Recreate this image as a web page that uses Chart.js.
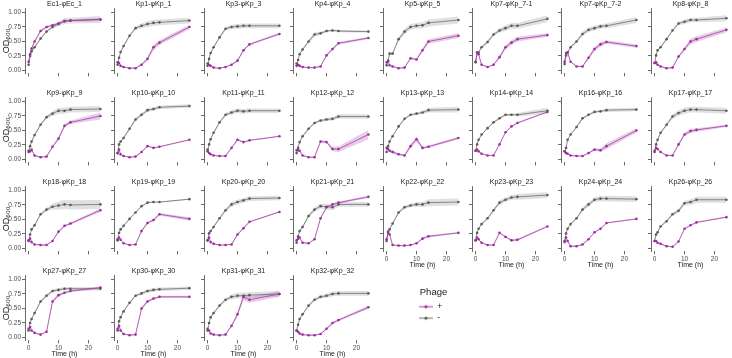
<!DOCTYPE html>
<html><head><meta charset="utf-8">
<script src="https://cdn.jsdelivr.net/npm/chart.js@4/dist/chart.umd.min.js"></script>
<style>
html,body{margin:0;padding:0;background:#fff;width:732px;height:358px;overflow:hidden;position:relative}
canvas{position:absolute;display:block}
</style></head><body>
<script>
const times = [0,0.5,1,2,4,6,8,10,12,14,24];
const panelNames = ['Ec1-φEc_1','Kp1-φKp_1','Kp3-φKp_3','Kp4-φKp_4','Kp5-φKp_5','Kp7-φKp_7-1','Kp7-φKp_7-2','Kp8-φKp_8',
'Kp9-φKp_9','Kp10-φKp_10','Kp11-φKp_11','Kp12-φKp_12','Kp13-φKp_13','Kp14-φKp_14','Kp16-φKp_16','Kp17-φKp_17',
'Kp18-φKp_18','Kp19-φKp_19','Kp20-φKp_20','Kp21-φKp_21','Kp22-φKp_22','Kp23-φKp_23','Kp24-φKp_24','Kp26-φKp_26',
'Kp27-φKp_27','Kp30-φKp_30','Kp31-φKp_31','Kp32-φKp_32'];
const legendLabels = ['+','-'];
const yTicks = [0,0.25,0.5,0.75,1];
const xTicks = [0,10,20];

// OD600 without phage ("-")
const minusOD = [
[0.10,0.25,0.33,0.40,0.55,0.67,0.75,0.80,0.85,0.86,0.88],
[0.10,0.22,0.32,0.42,0.60,0.73,0.77,0.80,0.82,0.83,0.86],
[0.08,0.20,0.30,0.40,0.57,0.72,0.75,0.76,0.77,0.77,0.77],
[0.08,0.18,0.28,0.36,0.50,0.62,0.64,0.68,0.69,0.68,0.67],
[0.09,0.17,0.29,0.29,0.54,0.67,0.75,0.77,0.78,0.82,0.87],
[0.14,0.31,0.31,0.40,0.49,0.62,0.69,0.73,0.77,0.77,0.89],
[0.11,0.26,0.31,0.40,0.50,0.63,0.70,0.73,0.76,0.77,0.87],
[0.13,0.26,0.35,0.40,0.54,0.69,0.81,0.84,0.87,0.87,0.90],
[0.13,0.23,0.31,0.42,0.60,0.73,0.79,0.84,0.84,0.86,0.87],
[0.11,0.26,0.31,0.37,0.53,0.69,0.77,0.85,0.87,0.90,0.92],
[0.14,0.26,0.35,0.46,0.64,0.77,0.81,0.84,0.83,0.84,0.84],
[0.11,0.20,0.30,0.40,0.53,0.63,0.67,0.69,0.70,0.74,0.74],
[0.13,0.23,0.31,0.40,0.57,0.70,0.77,0.79,0.81,0.85,0.86],
[0.15,0.26,0.34,0.43,0.54,0.64,0.71,0.77,0.77,0.77,0.84],
[0.14,0.20,0.34,0.43,0.56,0.71,0.77,0.82,0.83,0.85,0.86],
[0.13,0.26,0.34,0.46,0.60,0.74,0.80,0.84,0.86,0.86,0.84],
[0.13,0.24,0.33,0.40,0.59,0.67,0.72,0.74,0.76,0.75,0.76],
[0.14,0.27,0.33,0.39,0.51,0.62,0.73,0.79,0.80,0.80,0.85],
[0.14,0.26,0.30,0.37,0.52,0.66,0.76,0.80,0.83,0.86,0.87],
[0.10,0.21,0.30,0.37,0.56,0.67,0.73,0.72,0.71,0.76,0.76],
[0.13,0.27,0.33,0.43,0.62,0.71,0.74,0.76,0.76,0.79,0.80],
[0.14,0.27,0.34,0.42,0.52,0.66,0.79,0.84,0.88,0.89,0.92],
[0.13,0.26,0.34,0.42,0.52,0.67,0.76,0.84,0.86,0.86,0.85],
[0.13,0.24,0.28,0.38,0.47,0.59,0.65,0.78,0.80,0.84,0.84],
[0.12,0.25,0.32,0.42,0.62,0.72,0.80,0.82,0.84,0.84,0.84],
[0.12,0.28,0.35,0.45,0.60,0.72,0.76,0.80,0.82,0.83,0.85],
[0.12,0.25,0.35,0.42,0.55,0.65,0.70,0.72,0.72,0.73,0.75],
[0.12,0.22,0.32,0.40,0.55,0.65,0.70,0.72,0.75,0.76,0.76]];

// OD600 with phage ("+")
const plusOD = [
[0.15,0.28,0.38,0.50,0.68,0.75,0.78,0.81,0.85,0.86,0.88],
[0.14,0.13,0.08,0.06,0.04,0.04,0.10,0.20,0.40,0.48,0.75],
[0.12,0.10,0.08,0.05,0.04,0.06,0.10,0.17,0.35,0.45,0.63],
[0.12,0.10,0.08,0.06,0.05,0.05,0.07,0.26,0.37,0.47,0.56],
[0.14,0.16,0.09,0.07,0.04,0.05,0.21,0.19,0.35,0.50,0.60],
[0.15,0.31,0.28,0.10,0.06,0.10,0.23,0.40,0.48,0.54,0.61],
[0.15,0.30,0.31,0.15,0.07,0.07,0.22,0.37,0.45,0.49,0.42],
[0.13,0.14,0.10,0.07,0.04,0.05,0.24,0.37,0.50,0.54,0.70],
[0.15,0.14,0.17,0.07,0.04,0.05,0.22,0.36,0.58,0.64,0.75],
[0.11,0.17,0.09,0.06,0.04,0.05,0.13,0.23,0.20,0.22,0.34],
[0.17,0.11,0.09,0.07,0.06,0.06,0.20,0.34,0.30,0.33,0.40],
[0.16,0.16,0.15,0.07,0.04,0.04,0.31,0.30,0.18,0.18,0.43],
[0.20,0.18,0.15,0.13,0.09,0.07,0.23,0.35,0.20,0.22,0.37],
[0.15,0.17,0.14,0.10,0.07,0.07,0.26,0.47,0.57,0.63,0.82],
[0.14,0.11,0.10,0.07,0.06,0.06,0.11,0.17,0.16,0.23,0.50],
[0.15,0.20,0.18,0.13,0.07,0.07,0.26,0.43,0.49,0.51,0.58],
[0.14,0.17,0.11,0.07,0.06,0.06,0.13,0.29,0.39,0.43,0.66],
[0.16,0.19,0.15,0.09,0.06,0.07,0.30,0.44,0.49,0.59,0.51],
[0.14,0.19,0.11,0.08,0.06,0.06,0.07,0.24,0.35,0.46,0.63],
[0.14,0.17,0.19,0.10,0.09,0.16,0.52,0.71,0.76,0.79,0.89],
[0.16,0.29,0.24,0.06,0.05,0.05,0.06,0.09,0.17,0.21,0.27],
[0.14,0.19,0.16,0.10,0.06,0.06,0.27,0.20,0.14,0.15,0.38],
[0.11,0.19,0.13,0.04,0.04,0.07,0.16,0.28,0.34,0.44,0.51],
[0.13,0.13,0.10,0.08,0.04,0.03,0.12,0.34,0.40,0.45,0.54],
[0.15,0.18,0.12,0.08,0.05,0.10,0.62,0.73,0.77,0.80,0.86],
[0.15,0.20,0.12,0.06,0.04,0.05,0.50,0.62,0.67,0.70,0.70],
[0.15,0.12,0.07,0.05,0.04,0.05,0.20,0.40,0.70,0.65,0.75],
[0.12,0.10,0.07,0.05,0.04,0.04,0.06,0.15,0.25,0.30,0.52]];

// ribbon half-widths, "-"
const minusSD = [
[0.01,0.01,0.01,0.02,0.02,0.02,0.03,0.04,0.05,0.05,0.06],
[0.01,0.01,0.01,0.02,0.02,0.03,0.04,0.05,0.05,0.05,0.05],
[0.01,0.01,0.01,0.02,0.02,0.03,0.04,0.04,0.04,0.04,0.04],
[0.01,0.01,0.02,0.02,0.03,0.04,0.03,0.02,0.02,0.02,0.02],
[0.01,0.02,0.02,0.02,0.03,0.05,0.05,0.05,0.05,0.06,0.06],
[0.01,0.01,0.02,0.02,0.03,0.03,0.04,0.05,0.05,0.05,0.06],
[0.01,0.01,0.02,0.02,0.03,0.04,0.04,0.04,0.04,0.04,0.05],
[0.01,0.01,0.01,0.02,0.02,0.02,0.03,0.04,0.04,0.04,0.05],
[0.01,0.01,0.01,0.02,0.02,0.03,0.04,0.05,0.05,0.05,0.05],
[0.01,0.01,0.01,0.02,0.02,0.03,0.03,0.03,0.03,0.03,0.03],
[0.01,0.01,0.01,0.02,0.02,0.03,0.04,0.04,0.04,0.04,0.04],
[0.01,0.01,0.01,0.02,0.02,0.02,0.02,0.03,0.03,0.04,0.04],
[0.01,0.01,0.01,0.01,0.02,0.02,0.02,0.02,0.03,0.04,0.05],
[0.01,0.01,0.01,0.01,0.01,0.02,0.02,0.02,0.02,0.03,0.05],
[0.01,0.01,0.01,0.01,0.02,0.02,0.02,0.02,0.02,0.03,0.03],
[0.01,0.01,0.01,0.02,0.03,0.04,0.05,0.05,0.05,0.05,0.05],
[0.01,0.01,0.01,0.02,0.02,0.03,0.05,0.07,0.08,0.08,0.08],
[0.01,0.01,0.01,0.01,0.01,0.01,0.01,0.01,0.01,0.01,0.01],
[0.01,0.01,0.01,0.02,0.02,0.03,0.04,0.04,0.04,0.04,0.04],
[0.01,0.01,0.01,0.02,0.03,0.04,0.04,0.05,0.05,0.04,0.04],
[0.01,0.01,0.01,0.02,0.02,0.03,0.03,0.04,0.04,0.06,0.06],
[0.01,0.01,0.01,0.02,0.02,0.03,0.04,0.04,0.04,0.05,0.05],
[0.01,0.01,0.01,0.02,0.02,0.03,0.04,0.04,0.05,0.05,0.05],
[0.01,0.01,0.01,0.02,0.02,0.03,0.04,0.04,0.05,0.05,0.05],
[0.01,0.01,0.01,0.02,0.02,0.03,0.03,0.03,0.03,0.03,0.03],
[0.01,0.01,0.01,0.02,0.02,0.02,0.03,0.03,0.03,0.03,0.03],
[0.01,0.01,0.01,0.02,0.02,0.03,0.04,0.05,0.05,0.05,0.05],
[0.01,0.01,0.01,0.02,0.02,0.03,0.03,0.04,0.04,0.04,0.04]];

// ribbon half-widths, "+"
const plusSD = [
[0.01,0.01,0.01,0.02,0.02,0.02,0.02,0.02,0.02,0.02,0.03],
[0.01,0.01,0.01,0.01,0.01,0.01,0.02,0.03,0.05,0.04,0.04],
[0.01,0.01,0.01,0.01,0.01,0.01,0.01,0.02,0.02,0.02,0.02],
[0.01,0.01,0.01,0.01,0.01,0.01,0.01,0.02,0.02,0.02,0.02],
[0.01,0.01,0.01,0.01,0.01,0.01,0.02,0.02,0.03,0.04,0.04],
[0.01,0.02,0.02,0.01,0.01,0.01,0.03,0.04,0.04,0.04,0.03],
[0.01,0.02,0.02,0.01,0.01,0.01,0.03,0.04,0.04,0.03,0.03],
[0.01,0.01,0.01,0.01,0.01,0.01,0.02,0.03,0.05,0.05,0.04],
[0.01,0.01,0.01,0.01,0.01,0.01,0.02,0.03,0.03,0.03,0.06],
[0.01,0.01,0.01,0.01,0.01,0.01,0.01,0.01,0.01,0.01,0.01],
[0.01,0.01,0.01,0.01,0.01,0.01,0.01,0.02,0.01,0.01,0.01],
[0.01,0.01,0.01,0.01,0.01,0.01,0.02,0.02,0.04,0.05,0.08],
[0.02,0.02,0.03,0.03,0.02,0.02,0.04,0.05,0.02,0.02,0.02],
[0.01,0.01,0.01,0.01,0.01,0.01,0.01,0.01,0.01,0.01,0.01],
[0.01,0.01,0.01,0.01,0.01,0.01,0.01,0.02,0.03,0.05,0.04],
[0.01,0.01,0.01,0.01,0.01,0.01,0.02,0.03,0.04,0.03,0.02],
[0.01,0.01,0.01,0.01,0.01,0.01,0.01,0.02,0.02,0.02,0.03],
[0.01,0.01,0.01,0.01,0.01,0.01,0.02,0.02,0.02,0.02,0.03],
[0.01,0.01,0.01,0.01,0.01,0.01,0.01,0.02,0.02,0.01,0.01],
[0.01,0.01,0.01,0.01,0.01,0.01,0.02,0.02,0.02,0.02,0.02],
[0.01,0.02,0.02,0.01,0.01,0.01,0.01,0.01,0.02,0.02,0.01],
[0.01,0.01,0.01,0.01,0.01,0.01,0.01,0.01,0.02,0.02,0.01],
[0.01,0.01,0.01,0.01,0.01,0.01,0.01,0.01,0.01,0.01,0.01],
[0.01,0.01,0.01,0.01,0.01,0.01,0.01,0.01,0.01,0.01,0.01],
[0.01,0.01,0.01,0.01,0.01,0.01,0.03,0.03,0.02,0.02,0.02],
[0.01,0.01,0.01,0.01,0.01,0.01,0.03,0.02,0.02,0.02,0.02],
[0.01,0.01,0.01,0.01,0.01,0.01,0.02,0.04,0.06,0.05,0.05],
[0.01,0.01,0.01,0.01,0.01,0.01,0.01,0.02,0.02,0.02,0.03]];

const PURPLE = '#A43CA6', PURPLE_PT = '#9B2F9D', PURPLE_FILL = 'rgba(190,110,192,0.35)';
const GREY = '#6E6E6E', GREY_PT = '#5A5A5A', GREY_FILL = 'rgba(165,165,165,0.35)';

Chart.defaults.font.family = "'Liberation Sans', Arial, Helvetica, sans-serif";
Chart.defaults.animation = false;

const PLOT_W = 80.5, PLOT_H = 65, YW = 26, XH = 18, PAD_T = 0, TITLE_FS = 7;
const TITLE_H = TITLE_FS * 1.2;
const CW = 109, CH = 92;
function plotLeft(c){ return 25 + 89.4 * c; }
function plotTop(r){ return 8 + 89 * r; }

function pts(vals, sd, sign){ return times.map((t,k)=>({x:t, y: vals[k] + sign * (sd ? sd[k] : 0)})); }

panelNames.forEach((name, i) => {
  const r = Math.floor(i / 8), c = i % 8;
  const isBottom = (c < 4) ? r === 3 : r === 2;
  const cv = document.createElement('canvas');
  cv.width = CW; cv.height = CH;
  cv.style.width = CW + 'px'; cv.style.height = CH + 'px';
  cv.style.left = (plotLeft(c) - YW) + 'px';
  cv.style.top = (plotTop(r) - PAD_T - TITLE_H) + 'px';
  document.body.appendChild(cv);
  const ribbon = (color) => ({borderWidth:0, pointRadius:0, backgroundColor:color, borderColor:'rgba(0,0,0,0)'});
  new Chart(cv, {
    type: 'line',
    data: { datasets: [
      Object.assign({data: pts(minusOD[i], minusSD[i], 1), fill: 1, order: 10}, ribbon(GREY_FILL)),
      Object.assign({data: pts(minusOD[i], minusSD[i], -1), fill: false, order: 11}, ribbon(GREY_FILL)),
      Object.assign({data: pts(plusOD[i], plusSD[i], 1), fill: 3, order: 8}, ribbon(PURPLE_FILL)),
      Object.assign({data: pts(plusOD[i], plusSD[i], -1), fill: false, order: 9}, ribbon(PURPLE_FILL)),
      {label: legendLabels[1], data: pts(minusOD[i], null, 0), borderColor: GREY, borderWidth: 0.8, pointRadius: 1.3,
       pointBackgroundColor: GREY_PT, pointBorderWidth: 0, fill: false, order: 2},
      {label: legendLabels[0], data: pts(plusOD[i], null, 0), borderColor: PURPLE, borderWidth: 0.8, pointRadius: 1.3,
       pointBackgroundColor: PURPLE_PT, pointBorderWidth: 0, fill: false, order: 1}
    ]},
    options: {
      responsive: false, animation: false, events: [],
      layout: { padding: {top: PAD_T, left: 0, right: CW - YW - PLOT_W, bottom: CH - PAD_T - TITLE_H - PLOT_H - XH} },
      plugins: {
        legend: {display: false}, tooltip: {enabled: false},
        title: {display: true, fullSize: false, text: name, color: '#1a1a1a', font: {size: TITLE_FS, weight: 'normal'}, padding: 0}
      },
      scales: {
        x: { type: 'linear', min: -1.2, max: 25.2,
          afterBuildTicks: s => { s.ticks = xTicks.map(v => ({value: v})); },
          afterFit: s => { s.height = XH; },
          ticks: {display: isBottom, color: '#4d4d4d', font: {size: 6.5}, padding: 0.5, maxRotation: 0, autoSkip: false},
          grid: {display: true, drawOnChartArea: false, drawTicks: true, tickLength: 3, tickColor: '#444', tickWidth: 0.8},
          border: {display: false},
          title: {display: isBottom, text: 'Time (h)', color: '#1a1a1a', font: {size: 7}, padding: 0}
        },
        y: { min: -0.05, max: 1.07,
          afterBuildTicks: s => { s.ticks = yTicks.map(v => ({value: v})); },
          afterFit: s => { s.width = YW; },
          ticks: {display: c === 0, color: '#4d4d4d', font: {size: 6.5}, padding: 1, callback: v => Number(v).toFixed(2)},
          grid: {display: true, drawOnChartArea: false, drawTicks: true, tickLength: 3, tickColor: '#444', tickWidth: 0.8},
          border: {display: true, color: '#444', width: 0.8},
          title: {display: c === 0, text: 'OD₆₀₀', color: '#1a1a1a', font: {size: 9}, padding: {top: 2, bottom: 0}}
        }
      }
    }
  });
});

// legend
function keyImage(lineColor, ptColor){
  const k = document.createElement('canvas'); k.width = 14; k.height = 6;
  const g = k.getContext('2d');
  g.strokeStyle = lineColor; g.lineWidth = 1; g.beginPath(); g.moveTo(0,3); g.lineTo(14,3); g.stroke();
  g.fillStyle = ptColor; g.beginPath(); g.arc(7,3,1.6,0,Math.PI*2); g.fill();
  return k;
}
const lc = document.createElement('canvas');
lc.width = 70; lc.height = 45; lc.style.width = '70px'; lc.style.height = '45px';
lc.style.left = '416px'; lc.style.top = '285px';
document.body.appendChild(lc);
const keyImgs = [keyImage(PURPLE, PURPLE_PT), keyImage(GREY, GREY_PT)];
new Chart(lc, {
  type: 'line',
  data: { datasets: [
    {label: legendLabels[0], data: [], borderColor: PURPLE},
    {label: legendLabels[1], data: [], borderColor: GREY}
  ]},
  options: {
    responsive: false, animation: false, events: [],
    layout: {padding: 0},
    scales: {x: {display: false}, y: {display: false}},
    plugins: {
      tooltip: {enabled: false},
      legend: { display: true, position: 'left', align: 'start',
        title: {display: true, text: 'Phage', color: '#1a1a1a', font: {size: 9.5}, padding: {top: 3, bottom: 0}},
        labels: { usePointStyle: true, pointStyleWidth: 14, boxHeight: 6, padding: 3, color: '#1a1a1a', font: {size: 8.5},
          generateLabels: ch => ch.data.datasets.map((ds, j) => ({text: ds.label, pointStyle: keyImgs[j], fillStyle: ds.borderColor,
            strokeStyle: ds.borderColor, lineWidth: 0, hidden: false, datasetIndex: j, fontColor: '#1a1a1a'})) }
      }
    }
  }
});
</script>
</body></html>
